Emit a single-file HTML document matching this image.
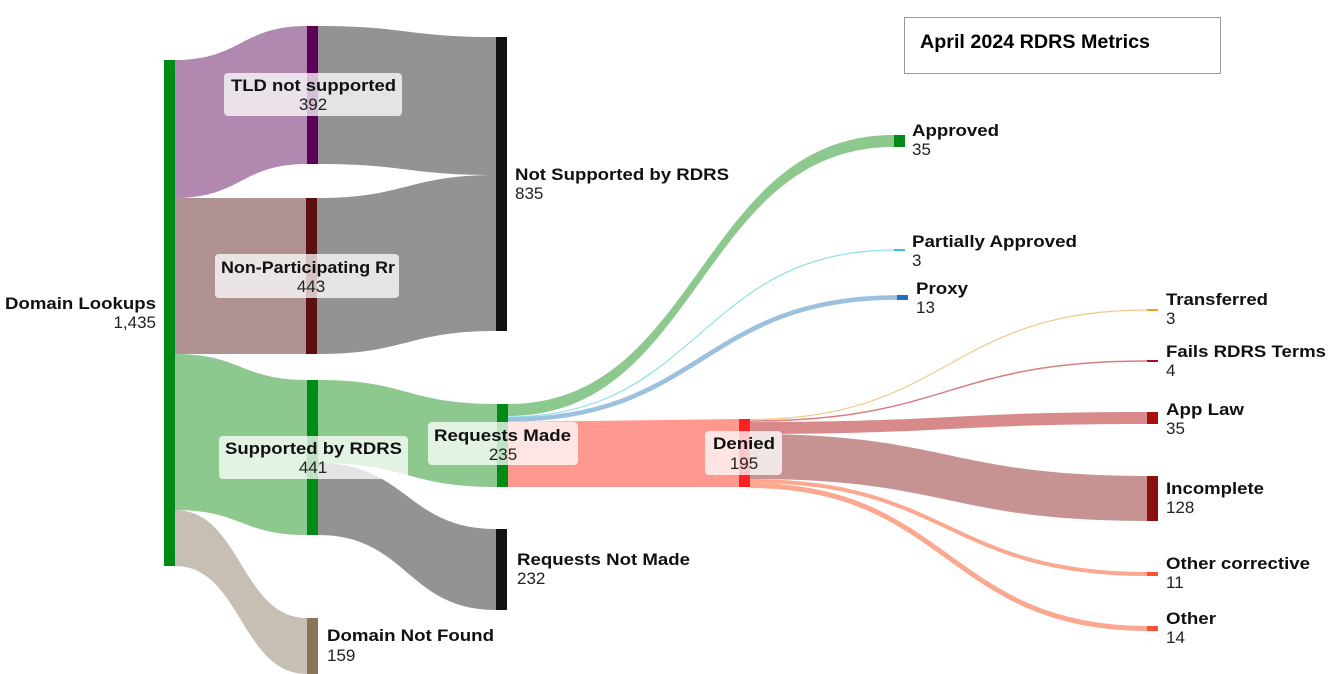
<!DOCTYPE html>
<html><head><meta charset="utf-8"><style>
body{margin:0;background:#fff;}
svg{display:block;font-family:"Liberation Sans",Arial,sans-serif;}
.b{font-weight:bold;font-size:17px;fill:#111;}
.v{font-size:17px;fill:#222;}
</style></head><body>
<svg width="1330" height="674" viewBox="0 0 1330 674" xmlns="http://www.w3.org/2000/svg">
<path d="M175 60 C241 60 241 26 307 26 L307 164 C241 164 241 198 175 198 Z" fill="#b088b0"/>
<path d="M175 198 L306 198 L306 354 L175 354 Z" fill="#b09292"/>
<path d="M175 354 C241 354 241 380 307 380 L307 535 C241 535 241 510 175 510 Z" fill="#8dc98f"/>
<path d="M175 510 C241 510 241 618 307 618 L307 674 C241 674 241 566 175 566 Z" fill="#c8bfb4"/>
<path d="M318 26 C407 26 407 37 496 37 L496 175 C407 175 407 164 318 164 Z" fill="#939393"/>
<path d="M317 198 C407 198 407 175 496 175 L496 331 C407 331 407 354 317 354 Z" fill="#939393"/>
<path d="M318 380 C407 380 407 404 497 404 L497 487 C407 487 407 463 318 463 Z" fill="#8dc98f"/>
<path d="M318 463 C407 463 407 529 496 529 L496 610 C407 610 407 535 318 535 Z" fill="#939393"/>
<path d="M508 404 C700 404 700 135 894 135 L894 147 C700 147 700 416 508 416 Z" fill="#8dc98f"/>
<path d="M508 417 C700 417 700 250 894 250" stroke="#8fdfea" stroke-width="1.2" fill="none"/>
<path d="M508 419.5 C702 419.5 702 297.5 897 297.5" stroke="#9cc1de" stroke-width="4.6" fill="none"/>
<path d="M508 422 L739 419 L739 487 L508 487 Z" fill="#ff9990"/>
<path d="M750 419.5 C948 419.5 948 310 1147 310" stroke="#f5c98a" stroke-width="1.2" fill="none"/>
<path d="M750 421 C948 421 948 361 1147 361" stroke="#d88080" stroke-width="1.5" fill="none"/>
<path d="M750 422 C948 422 948 412 1147 412 L1147 424 C948 424 948 434 750 434 Z" fill="#d88a8a"/>
<path d="M750 434 C948 434 948 476 1147 476 L1147 521 C948 521 948 479 750 479 Z" fill="#c79292"/>
<path d="M750 481 C948 481 948 574 1147 574" stroke="#fca890" stroke-width="4" fill="none"/>
<path d="M750 485.5 C948 485.5 948 628.5 1147 628.5" stroke="#fca890" stroke-width="5" fill="none"/>
<rect x="164" y="60" width="11" height="506" fill="#008a16"/>
<rect x="307" y="26" width="11" height="138" fill="#5c005c"/>
<rect x="306" y="198" width="11" height="156" fill="#5a1010"/>
<rect x="307" y="380" width="11" height="155" fill="#008a16"/>
<rect x="307" y="618" width="11" height="56" fill="#8b7358"/>
<rect x="496" y="37" width="11" height="294" fill="#111"/>
<rect x="497" y="404" width="11" height="83" fill="#008a16"/>
<rect x="496" y="529" width="11" height="81" fill="#111"/>
<rect x="739" y="419" width="11" height="68" fill="#ff2020"/>
<rect x="894" y="135" width="11" height="12" fill="#008a16"/>
<rect x="894" y="249" width="11" height="2" fill="#40c0d8"/>
<rect x="897" y="295" width="11" height="5" fill="#1f6fbf"/>
<rect x="1147" y="309" width="11" height="2" fill="#f5a020"/>
<rect x="1147" y="360" width="11" height="2" fill="#aa1010"/>
<rect x="1147" y="412" width="11" height="12" fill="#aa1010"/>
<rect x="1147" y="476" width="11" height="45" fill="#8b1010"/>
<rect x="1147" y="572" width="11" height="4" fill="#ff5030"/>
<rect x="1147" y="626" width="11" height="5" fill="#ff5030"/>
<rect x="224" y="73" width="178" height="43" rx="4" fill="#fff" fill-opacity="0.75"/>
<rect x="215" y="254" width="184" height="44" rx="4" fill="#fff" fill-opacity="0.75"/>
<rect x="219" y="436" width="189" height="43" rx="4" fill="#fff" fill-opacity="0.75"/>
<rect x="428" y="422" width="150" height="43" rx="4" fill="#fff" fill-opacity="0.75"/>
<rect x="705" y="431" width="77" height="44" rx="4" fill="#fff" fill-opacity="0.75"/>
<g lengthAdjust="spacingAndGlyphs">
<text x="5" y="309" class="b" textLength="151" lengthAdjust="spacingAndGlyphs">Domain Lookups</text>
<text x="156" y="328" class="v" text-anchor="end">1,435</text>
<text x="231" y="91" class="b" textLength="165" lengthAdjust="spacingAndGlyphs">TLD not supported</text>
<text x="313" y="110" class="v" text-anchor="middle">392</text>
<text x="221" y="273" class="b" textLength="174" lengthAdjust="spacingAndGlyphs">Non-Participating Rr</text>
<text x="311" y="292" class="v" text-anchor="middle">443</text>
<text x="225" y="454" class="b" textLength="177" lengthAdjust="spacingAndGlyphs">Supported by RDRS</text>
<text x="313" y="473" class="v" text-anchor="middle">441</text>
<text x="434" y="441" class="b" textLength="137" lengthAdjust="spacingAndGlyphs">Requests Made</text>
<text x="503" y="460" class="v" text-anchor="middle">235</text>
<text x="713" y="449" class="b" textLength="62" lengthAdjust="spacingAndGlyphs">Denied</text>
<text x="744" y="469" class="v" text-anchor="middle">195</text>
<text x="515" y="180" class="b" textLength="214" lengthAdjust="spacingAndGlyphs">Not Supported by RDRS</text>
<text x="515" y="199" class="v">835</text>
<text x="517" y="565" class="b" textLength="173" lengthAdjust="spacingAndGlyphs">Requests Not Made</text>
<text x="517" y="584" class="v">232</text>
<text x="327" y="641" class="b" textLength="167" lengthAdjust="spacingAndGlyphs">Domain Not Found</text>
<text x="327" y="661" class="v">159</text>
<text x="912" y="136" class="b" textLength="87" lengthAdjust="spacingAndGlyphs">Approved</text>
<text x="912" y="155" class="v">35</text>
<text x="912" y="247" class="b" textLength="165" lengthAdjust="spacingAndGlyphs">Partially Approved</text>
<text x="912" y="266" class="v">3</text>
<text x="916" y="294" class="b" textLength="52" lengthAdjust="spacingAndGlyphs">Proxy</text>
<text x="916" y="313" class="v">13</text>
<text x="1166" y="305" class="b" textLength="102" lengthAdjust="spacingAndGlyphs">Transferred</text>
<text x="1166" y="324" class="v">3</text>
<text x="1166" y="357" class="b" textLength="160" lengthAdjust="spacingAndGlyphs">Fails RDRS Terms</text>
<text x="1166" y="376" class="v">4</text>
<text x="1166" y="415" class="b" textLength="78" lengthAdjust="spacingAndGlyphs">App Law</text>
<text x="1166" y="434" class="v">35</text>
<text x="1166" y="494" class="b" textLength="98" lengthAdjust="spacingAndGlyphs">Incomplete</text>
<text x="1166" y="513" class="v">128</text>
<text x="1166" y="569" class="b" textLength="144" lengthAdjust="spacingAndGlyphs">Other corrective</text>
<text x="1166" y="588" class="v">11</text>
<text x="1166" y="624" class="b" textLength="50" lengthAdjust="spacingAndGlyphs">Other</text>
<text x="1166" y="643" class="v">14</text>
</g>
<rect x="904.5" y="17.5" width="316" height="56" fill="#fff" stroke="#999" stroke-width="1"/>
<text x="920" y="48" textLength="230" lengthAdjust="spacingAndGlyphs" style="font-weight:bold;font-size:19px;fill:#000">April 2024 RDRS Metrics</text>
</svg>
</body></html>
